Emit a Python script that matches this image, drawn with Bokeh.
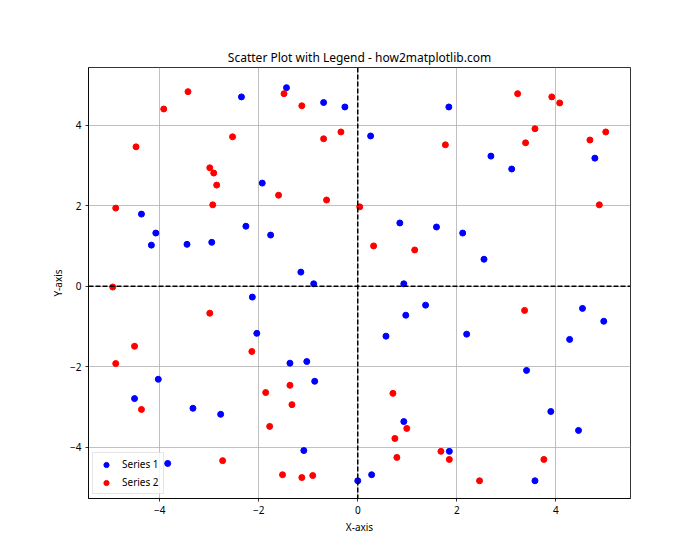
from bokeh.plotting import figure
from bokeh.models import FixedTicker, Span, Range1d, Legend, LegendItem, CustomJSTickFormatter
from bokeh.embed import file_html
from bokeh.resources import INLINE

s1_x = [-1.44, -0.69, -0.26, -2.35, 0.26, -1.93, 1.84, 2.69, 3.11, 4.79,
        -4.37, -4.08, -4.17, -3.45, -2.95, -2.26, -1.76, -2.13, -2.04, -1.15,
        -0.89, 0.85, 1.59, 0.93, 1.37, 0.97, 0.57, 2.12, 2.55, 2.20,
        4.54, 4.97, 4.28, -4.03, -4.51, -3.33, -2.77, -3.84, -1.37, -1.03,
        -0.87, -1.09, 0.00, 0.28, 0.93, 1.85, 3.41, 3.90, 4.46, 3.58]
s1_y = [4.93, 4.56, 4.45, 4.70, 3.73, 2.56, 4.45, 3.23, 2.91, 3.18,
        1.79, 1.32, 1.02, 1.04, 1.09, 1.49, 1.27, -0.27, -1.17, 0.35,
        0.06, 1.57, 1.47, 0.06, -0.47, -0.72, -1.24, 1.32, 0.67, -1.19,
        -0.55, -0.87, -1.32, -2.31, -2.79, -3.03, -3.18, -4.40, -1.91, -1.87,
        -2.36, -4.08, -4.83, -4.68, -3.36, -4.10, -2.09, -3.11, -3.58, -4.83]

s2_x = [-3.43, -3.92, -2.53, -4.48, -2.99, -2.91, -2.85, -2.93, -4.89,
        -1.49, -1.13, -0.34, -0.69, -1.60, -0.63, 0.04, 1.77,
        3.23, 3.92, 4.08, 3.58, 3.39, 5.01, 4.69, 4.88,
        -4.95, -2.99, -4.51, -2.14, 0.32, 1.15, 3.37,
        -4.89, -4.37, -1.86, -1.78, -2.73,
        -1.37, -1.33, -1.52, -1.13, -0.91, 0.71, 0.99, 0.75, 0.79, 1.68,
        1.85, 3.76, 2.46]
s2_y = [4.83, 4.40, 3.71, 3.46, 2.94, 2.81, 2.51, 2.02, 1.94,
        4.78, 4.48, 3.83, 3.66, 2.26, 2.14, 1.97, 3.51,
        4.78, 4.70, 4.55, 3.91, 3.56, 3.83, 3.63, 2.02,
        -0.02, -0.67, -1.49, -1.62, 1.00, 0.90, -0.60,
        -1.92, -3.06, -2.64, -3.48, -4.33,
        -2.46, -2.94, -4.68, -4.75, -4.70, -2.66, -3.53, -3.78, -4.25, -4.10,
        -4.30, -4.30, -4.83]

ticks = [-4, -2, 0, 2, 4]
title = "Scatter Plot with Legend - how2matplotlib.com"

FONT = "Noto Sans"

p = figure(width=700, height=560, output_backend="svg", toolbar_location=None,
           x_range=Range1d(-5.44, 5.51), y_range=Range1d(-5.27, 5.43),
           min_border_left=88, min_border_right=70, min_border_top=67, min_border_bottom=62,
           title=title, background_fill_color="white", border_fill_color="white")

p.title.align = "center"
p.title.text_font = FONT
p.title.text_font_size = "12px"
p.title.text_font_style = "normal"
p.title.text_color = "black"
p.title.offset = 0
p.title.standoff = 3

p.outline_line_color = "black"
p.outline_line_width = 0.8

fmt = CustomJSTickFormatter(code="return String(tick).replace('-', '\u2212');")
for ax, lab in ((p.xaxis, "X-axis"), (p.yaxis, "Y-axis")):
    ax.ticker = FixedTicker(ticks=ticks)
    ax.formatter = fmt
    ax.axis_label = lab
    ax.axis_label_text_font = FONT
    ax.axis_label_text_font_size = "10px"
    ax.axis_label_text_font_style = "normal"
    ax.axis_label_text_color = "black"
    ax.major_label_text_font = FONT
    ax.major_label_text_font_size = "10px"
    ax.major_label_text_color = "black"
    ax.major_tick_out = 3
    ax.major_tick_in = 0
    ax.minor_tick_out = 0
    ax.minor_tick_in = 0
    ax.axis_line_color = "black"
    ax.axis_line_width = 0.8
    ax.major_tick_line_color = "black"
    ax.major_tick_line_width = 0.8
    ax.major_label_standoff = 4
p.xaxis.axis_label_standoff = 3
p.yaxis.axis_label_standoff = 2

p.xgrid.ticker = FixedTicker(ticks=ticks)
p.ygrid.ticker = FixedTicker(ticks=ticks)
for g in (p.xgrid, p.ygrid):
    g.grid_line_color = "#b0b0b0"
    g.grid_line_width = 0.8

p.add_layout(Span(location=0, dimension="width", line_color="black", line_width=1.5, line_dash="5 2"))
p.add_layout(Span(location=0, dimension="height", line_color="black", line_width=1.5, line_dash="5 2"))

r1 = p.scatter(s1_x, s1_y, size=6, fill_color="blue", line_color="blue")
r2 = p.scatter(s2_x, s2_y, size=6, fill_color="red", line_color="red")

legend = Legend(items=[LegendItem(label="Series 1", renderers=[r1]),
                       LegendItem(label="Series 2", renderers=[r2])],
                location="bottom_left")
legend.label_text_font = FONT
legend.label_text_font_size = "10px"
legend.label_text_color = "black"
legend.border_line_color = "#cccccc"
legend.border_line_width = 1
legend.background_fill_alpha = 0.8
legend.margin = 4
legend.padding = 4
legend.spacing = 4
legend.glyph_width = 18
legend.glyph_height = 13
legend.label_height = 13
legend.label_standoff = 7
p.add_layout(legend)

open("out.html", "w").write(file_html(p, INLINE))
